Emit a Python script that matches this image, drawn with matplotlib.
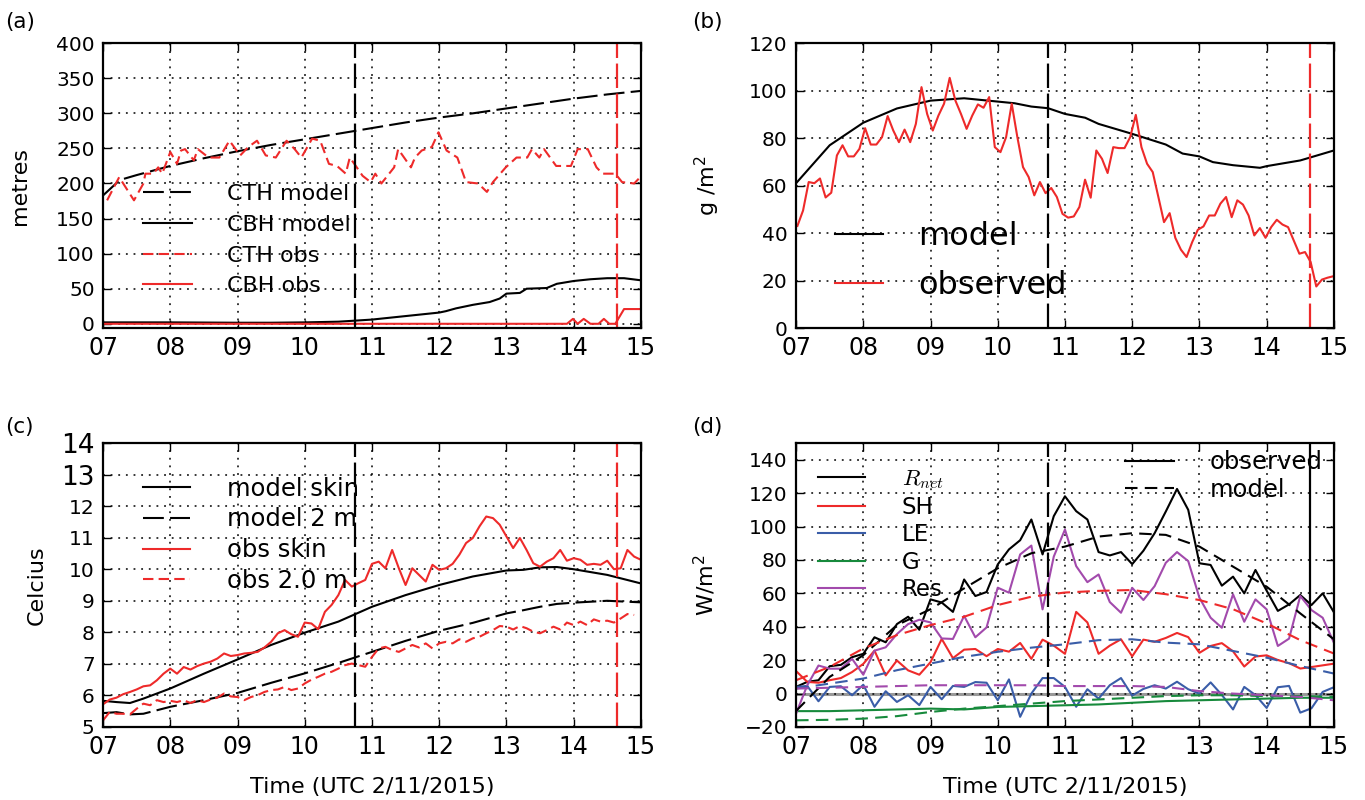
import numpy as np
import matplotlib.pyplot as plt
from matplotlib.lines import Line2D
from matplotlib.ticker import FuncFormatter

plt.rcParams['font.family'] = ['DejaVu Sans']

RED = '#ee2a2a'
BLUE = '#3a5da8'
GREEN = '#178a3c'
PURPLE = '#a24aac'

# ---------------- (a) cloud top / base height (metres)
a_model_t = [7.0, 7.25, 7.5, 8.0, 8.5, 9.0, 9.5, 10.0, 10.5, 11.0, 11.5, 12.0,
             12.5, 13.0, 13.5, 14.0, 14.5, 15.0]
a_cth_model = [183, 205, 212, 225, 236, 246, 255, 263, 271, 279, 287, 294,
               300, 307, 314, 321, 327, 332]

a_cbh_t = [7.0, 8.0, 9.0, 9.5, 10.0, 10.5, 11.0, 11.5, 12.0, 12.1, 12.25, 12.5,
           12.75, 12.9, 13.0, 13.2, 13.3, 13.6, 13.75, 14.0, 14.25, 14.5, 14.75, 15.0]
a_cbh_model = [2, 2, 1.5, 1.5, 2, 3, 6, 11, 16, 18, 22, 27,
               31, 36, 43, 44, 50, 51, 57, 61, 63.5, 65, 65, 62]

a_obs_t = [7.06, 7.24, 7.46, 7.60, 7.63, 7.75, 7.82, 7.88, 7.97, 8.00, 8.10, 8.16,
           8.22, 8.35, 8.41, 8.57, 8.73, 8.88, 9.04, 9.16, 9.29, 9.42, 9.57, 9.73,
           9.85, 9.95, 10.11, 10.23, 10.36, 10.48, 10.61, 10.67, 10.76, 10.86, 10.98,
           11.05, 11.14, 11.33, 11.39, 11.58, 11.64, 11.74, 11.89, 11.99, 12.11, 12.27,
           12.40, 12.58, 12.71, 12.80, 12.99, 13.15, 13.31, 13.38, 13.49, 13.56, 13.74,
           13.96, 14.06, 14.21, 14.34, 14.43, 14.62, 14.72, 14.90, 15.0]
a_cth_obs = [176, 209, 176, 200, 214, 214, 223, 214, 237, 245, 228, 247,
             249, 233, 249, 237, 237, 261, 240, 252, 261, 240, 237, 261,
             249, 237, 264, 261, 228, 225, 214, 237, 225, 211, 202,
             214, 200, 223, 249, 223, 237, 247, 252, 273, 247, 237,
             202, 200, 188, 202, 223, 237, 237, 249, 237, 249, 225,
             225, 249, 249, 223, 214, 214, 202, 200, 210]

a_cbh_obs_t = [7.0, 13.9, 13.99, 14.06, 14.15, 14.25, 14.37, 14.45, 14.53, 14.62, 14.75, 15.0]
a_cbh_obs = [0, 0, 7, 0, 7, 0, 0, 7, 0, 0, 21, 21]

# ---------------- (b) liquid water path (g/m2)
b_model_t = [7.0, 7.25, 7.5, 8.0, 8.5, 9.0, 9.5, 10.0, 10.25, 10.5, 10.75, 11.0,
             11.3, 11.5, 12.0, 12.5, 12.75, 13.0, 13.2, 13.5, 13.9, 14.0, 14.5, 15.0]
b_model = [61, 69, 77, 86.5, 92.5, 95.8, 96.8, 95.4, 94.7, 93.3, 92.6, 90.2,
           88.6, 86, 81.8, 77.3, 73.5, 72.3, 69.9, 68.6, 67.5, 68.2, 70.6, 74.8]
b_obs = [43, 49.5, 61.5, 61, 63, 55, 57, 72.7, 77, 72.3, 72.3, 75.5,
         84.2, 77.3, 77.3, 80.4, 89.3, 83.2, 78.3, 83.6, 78.3, 86, 101.5, 90.2,
         83.2, 89.5, 94.5, 105.4, 95.9, 90.2, 83.9, 89.5, 94.2, 92.8, 97.3, 76.2,
         74.1, 80.4, 94.5, 80.4, 67.8, 63.6, 55.9, 61.5, 56.8, 59, 55.2, 48.1,
         46.5, 47, 51, 62.5, 54.9, 74.8, 71.3, 65.3, 76.2, 75.8, 75.8, 80.4,
         89.8, 76.2, 69.2, 65.7, 55.2, 44.6, 48.4, 38, 33, 29.9, 36.2, 41.4,
         42.8, 47.4, 47.4, 52.4, 55.2, 46.7, 53.8, 52, 47.4, 39, 42.1, 38,
         42.5, 45.6, 43.6, 42.5, 36.9, 31.3, 32, 27.8, 17.5, 20.4, 21.2, 21.8]
b_obs_t = np.linspace(7.02, 14.99, len(b_obs))

# ---------------- (c) temperatures (Celcius)
c_model_t = [7.0, 7.2, 7.4, 7.6, 8.0, 8.5, 9.0, 9.5, 10.0, 10.5, 11.0, 11.5, 12.0,
             12.5, 13.0, 13.25, 13.5, 13.75, 14.0, 14.5, 15.0]
c_model_skin = [5.83, 5.79, 5.76, 5.9, 6.22, 6.69, 7.14, 7.6, 7.99, 8.34, 8.81, 9.18, 9.5,
                9.77, 9.96, 9.98, 10.06, 10.07, 10.0, 9.82, 9.55]
c_model_2m = [5.44, 5.47, 5.4, 5.42, 5.64, 5.85, 6.08, 6.4, 6.7, 7.03, 7.38, 7.73, 8.05,
              8.3, 8.6, 8.7, 8.81, 8.9, 8.94, 9.0, 8.95]
c_obs_skin = [5.72, 5.87, 5.93, 6.04, 6.11, 6.19, 6.29, 6.32, 6.48, 6.69,
              6.85, 6.69, 6.9, 6.82, 6.93, 7.01, 7.07, 7.17, 7.33, 7.25,
              7.28, 7.33, 7.35, 7.38, 7.52, 7.7, 7.97, 8.07, 7.94, 7.86,
              8.31, 8.28, 8.1, 8.65, 8.87, 9.18, 9.66, 9.45, 9.56, 9.66,
              10.17, 10.24, 10.03, 10.61, 10.03, 9.5, 10.03, 9.82, 9.61, 10.14,
              9.98, 10.03, 10.17, 10.46, 10.83, 10.99, 11.36, 11.67, 11.62, 11.41,
              11.04, 10.67, 10.99, 10.61, 10.19, 10.08, 10.24, 10.35, 10.61, 10.27,
              10.35, 10.3, 10.14, 10.17, 10.14, 10.27, 10.0, 10.03, 10.61, 10.4,
              10.3]
c_obs_2m = [5.21, 5.48, 5.42, 5.42, 5.4, 5.58, 5.74, 5.69, 5.85, 5.79,
            5.83, 5.79, 5.85, 5.76, 5.85, 5.79, 5.87, 5.93, 6.06, 5.97,
            5.95, 5.85, 5.95, 6.01, 6.11, 6.17, 6.19, 6.27, 6.17, 6.22,
            6.38, 6.5, 6.59, 6.69, 6.75, 6.85, 6.96, 7.01, 6.96, 6.91,
            7.22, 7.49, 7.54, 7.44, 7.38, 7.49, 7.6, 7.52, 7.65, 7.49,
            7.65, 7.7, 7.65, 7.78, 7.7, 7.81, 7.86, 7.97, 8.07, 8.2,
            8.18, 8.09, 8.2, 8.13, 8.02, 7.97, 8.07, 8.18, 8.09, 8.31,
            8.23, 8.34, 8.23, 8.41, 8.34, 8.37, 8.31, 8.44, 8.58, 8.55]
c_obs_t = 7.0 + 0.1 * np.arange(len(c_obs_skin))
c_obs2_t = 7.0 + 0.1 * np.arange(len(c_obs_2m))

# ---------------- (d) surface energy budget (W/m2), obs every 10 min
d_obs_t = 7.0 + np.arange(49) / 6.0
d_rnet_obs = [4, 7, 8, 16.4, 17.2, 21.8, 23.8, 33.7, 30.7, 41.6, 46, 38.2,
              56.4, 54.5, 48.9, 68.3, 58.4, 60.8, 77.3, 86.3, 91.8, 104.2, 83.3, 106.2,
              118.1, 109.2, 104.2, 84.7, 82.7, 84.7, 77.5, 85.5, 96, 109, 122.5, 110,
              78, 77, 64.6, 70, 60, 74, 61.6, 49.5, 53.4, 59, 53, 60, 48.7]
d_sh_obs = [13.5, 7, 6.5, 8, 9.3, 12.9, 17.8, 25.7, 10.9, 19.8, 13.9, 11.3,
            18.8, 32.7, 21.2, 26.3, 26.7, 22.4, 26.7, 25.1, 30.3, 20.8, 32.3, 28.7,
            23.8, 48.9, 42.6, 23.8, 28.7, 32.5, 22.3, 32.3, 31, 33.3, 36.3, 33.8,
            24.4, 28.5, 30.2, 25.3, 16.2, 22.2, 22.9, 20.1, 18.2, 15, 15.9, 16.9, 17.9]
d_le_obs = [4, 4.6, -4.6, 4, 4.4, -1, 5.3, -7.9, 1.4, -5, -1, -6.9,
            4, -3.4, 4.6, 4, 6.9, 6.5, -4, 8.5, -13.9, 0, 9.3, 9.3,
            4, -7.9, 2.6, -3, 5, 9.3, -1.2, 2.8, 5, 3, 7.1, 2.6,
            0, 6.7, -0.8, -9.5, 4, -0.9, -8.6, 3.8, 4.6, -11.4, -8.8, 1, 3.8]
d_res_obs = [-12, 5, 16.8, 14.9, 14.9, 20.8, 11.3, 25.7, 27.7, 35.6, 41.6, 44.2,
             42.6, 33, 32.7, 46.5, 33.7, 39.6, 63.4, 60.4, 83.3, 88.6, 50.4, 82,
             98.2, 76.3, 66.7, 71.3, 54.8, 48.4, 63.3, 56, 64.3, 78.3, 84.7, 79.3,
             57.4, 45.4, 39.4, 59.4, 43, 56.4, 50.4, 28.5, 32.9, 58.4, 50, 45.4, 30.5]

d_t = [7.0, 7.5, 8.0, 8.5, 9.0, 9.5, 10.0, 10.5, 11.0, 11.5, 12.0, 12.5,
       13.0, 13.5, 14.0, 14.5, 15.0]
d_g_obs = [-10.5, -10.5, -10, -9.5, -9, -9.5, -8, -7.5, -7, -6.5, -5.5, -4.5,
           -4, -3.5, -3, -2.5, -2.5]
d_rnet_model = [-10.4, 10, 23, 41, 50.5, 63, 75, 84, 88, 94, 96, 95,
                88, 76, 64, 48, 32.5]
d_sh_model = [8, 16, 27, 35, 41, 46, 53, 58, 60.5, 61.5, 62, 59.5,
              56, 50.5, 42, 32, 24]
d_le_model = [3, 6, 9, 14, 18, 22, 25, 27.5, 29.5, 32, 32.5, 30.5,
              29.5, 25.5, 21.5, 16.5, 12]
d_g_model = [-16, -15.7, -15, -13.5, -11, -9, -7.5, -6, -4.5, -3.5, -2.5, -1.5,
             -1, -1, -1.5, -1.5, -2]
d_res_model = [3, 3.5, 4, 4.5, 5, 5, 5, 5, 4.5, 4.5, 4.5, 4,
               1.5, 0, -1, -2, -4]

t_model_start = 10.75
t_obs_end = 14.65

DASH_K = (0, (10, 3))
DASH_R = (0, (5, 2.5))
DASH_D = (0, (6, 3.5))
VDASH = (0, (11, 2.5))


def style(ax):
    ax.set_xlim(7, 15)
    ax.set_xticks(range(7, 16))
    ax.xaxis.set_major_formatter(FuncFormatter(lambda v, p: '%02d' % v))
    ax.tick_params(direction='in', top=True, right=True, length=6, width=1)
    ax.tick_params(axis='x', labelsize=17, pad=6)
    ax.tick_params(axis='y', labelsize=14.5, pad=6)
    ax.grid(True, color='k', ls=(0, (1.2, 3.8)), lw=1.1)
    for s in ax.spines.values():
        s.set_linewidth(1.6)


fig = plt.figure(figsize=(13.65, 8), dpi=100)
ax_a = fig.add_axes([0.0755, 0.59, 0.394, 0.356])
ax_b = fig.add_axes([0.5832, 0.59, 0.394, 0.356])
ax_c = fig.add_axes([0.0755, 0.09125, 0.394, 0.355])
ax_d = fig.add_axes([0.5832, 0.09125, 0.394, 0.355])

# (a)
l1, = ax_a.plot(a_model_t, a_cth_model, color='k', lw=1.5, ls=DASH_K)
l2, = ax_a.plot(a_cbh_t, a_cbh_model, color='k', lw=1.5)
l3, = ax_a.plot(a_obs_t, a_cth_obs, color=RED, lw=1.5, ls=DASH_R)
l4, = ax_a.plot(a_cbh_obs_t, a_cbh_obs, color=RED, lw=1.5)
ax_a.axvline(t_model_start, color='k', lw=1.6, ls=VDASH)
ax_a.axvline(t_obs_end, color=RED, lw=1.6, ls=VDASH)
ax_a.set_ylim(-6, 400)
ax_a.set_yticks(range(0, 401, 50))
ax_a.set_ylabel('metres', fontsize=16)
ax_a.yaxis.set_label_coords(-0.136, 0.5)
ax_a.legend([l1, l2, l3, l4], ['CTH model', 'CBH model', 'CTH obs', 'CBH obs'],
            loc='upper left', bbox_to_anchor=(0.074, 0.505), frameon=False,
            fontsize=16, handlelength=2.2, handletextpad=1.6, labelspacing=0.48,
            borderpad=0, borderaxespad=0)
style(ax_a)

# (b)
m1, = ax_b.plot(b_model_t, b_model, color='k', lw=1.5)
m2, = ax_b.plot(b_obs_t, b_obs, color=RED, lw=1.5)
ax_b.axvline(t_model_start, color='k', lw=1.6, ls=VDASH)
ax_b.axvline(t_obs_end, color=RED, lw=1.6, ls=VDASH)
ax_b.set_ylim(0, 120)
ax_b.set_yticks(range(0, 121, 20))
ax_b.set_ylabel('g /m$^2$', fontsize=16)
ax_b.yaxis.set_label_coords(-0.138, 0.5)
ax_b.legend([m1, m2], ['model', 'observed'], loc='upper left',
            bbox_to_anchor=(0.0725, 0.375), frameon=False, fontsize=23,
            handlelength=1.5, handletextpad=1.1, labelspacing=0.55,
            borderpad=0, borderaxespad=0)
style(ax_b)

# (c)
k1, = ax_c.plot(c_model_t, c_model_skin, color='k', lw=1.5)
k2, = ax_c.plot(c_model_t, c_model_2m, color='k', lw=1.5, ls=DASH_K)
k3, = ax_c.plot(c_obs_t, c_obs_skin, color=RED, lw=1.5)
k4, = ax_c.plot(c_obs2_t, c_obs_2m, color=RED, lw=1.5, ls=DASH_R)
ax_c.axvline(t_model_start, color='k', lw=1.6, ls=VDASH)
ax_c.axvline(t_obs_end, color=RED, lw=1.6, ls=VDASH)
ax_c.set_ylim(5, 14)
ax_c.set_yticks(range(5, 15))
ax_c.set_yticklabels([str(v) for v in range(5, 15)])
ax_c.set_ylabel('Celcius', fontsize=16)
ax_c.yaxis.set_label_coords(-0.104, 0.5)
ax_c.set_xlabel('Time (UTC 2/11/2015)', fontsize=16, labelpad=13)
ax_c.legend([k1, k2, k3, k4], ['model skin', 'model 2 m', 'obs skin', 'obs 2.0 m'],
            loc='upper left', bbox_to_anchor=(0.074, 0.882), frameon=False,
            fontsize=17.5, handlelength=1.95, handletextpad=1.5, labelspacing=0.28,
            borderpad=0, borderaxespad=0)
style(ax_c)
for lab in ax_c.get_yticklabels()[-2:]:
    lab.set_fontsize(19)

# (d)
ax_d.axhline(0, color='0.6', lw=2.2, zorder=1.5)
o1, = ax_d.plot(d_obs_t, d_rnet_obs, color='k', lw=1.5)
o2, = ax_d.plot(d_obs_t, d_sh_obs, color=RED, lw=1.5)
o3, = ax_d.plot(d_obs_t, d_le_obs, color=BLUE, lw=1.5)
o4, = ax_d.plot(d_t, d_g_obs, color=GREEN, lw=1.5)
o5, = ax_d.plot(d_obs_t, d_res_obs, color=PURPLE, lw=1.5)
ax_d.plot(d_t, d_rnet_model, color='k', lw=1.5, ls=DASH_D)
ax_d.plot(d_t, d_sh_model, color=RED, lw=1.5, ls=DASH_D)
ax_d.plot(d_t, d_le_model, color=BLUE, lw=1.5, ls=DASH_D)
ax_d.plot(d_t, d_g_model, color=GREEN, lw=1.5, ls=DASH_D)
ax_d.plot(d_t, d_res_model, color=PURPLE, lw=1.5, ls=DASH_D)
ax_d.axvline(t_model_start, color='k', lw=1.6, ls=VDASH)
ax_d.axvline(t_obs_end, color='k', lw=1.6)
ax_d.set_ylim(-20, 150)
ax_d.set_yticks(range(-20, 141, 20))
ax_d.set_ylabel('W/m$^2$', fontsize=16)
ax_d.yaxis.set_label_coords(-0.145, 0.5)
ax_d.set_xlabel('Time (UTC 2/11/2015)', fontsize=16, labelpad=13)
leg1 = ax_d.legend([o1, o2, o3, o4, o5], ['$R_{net}$', 'SH', 'LE', 'G', 'Res'],
                   loc='upper left', bbox_to_anchor=(0.041, 0.915), frameon=False,
                   fontsize=16.5, handlelength=2.05, handletextpad=1.6,
                   labelspacing=0.2, borderpad=0, borderaxespad=0)
leg1.get_texts()[0].set_math_fontfamily('cm')
ax_d.add_artist(leg1)
ax_d.legend([Line2D([], [], color='k', lw=1.5), Line2D([], [], color='k', lw=1.5, ls=DASH_D)],
            ['observed', 'model'], loc='upper left', bbox_to_anchor=(0.6115, 0.975),
            frameon=False, fontsize=17.5, handlelength=2.0, handletextpad=1.5,
            labelspacing=0.15, borderpad=0, borderaxespad=0)
style(ax_d)

for x, y, s in [(0.004, 0.972, '(a)'), (0.507, 0.972, '(b)'),
                (0.004, 0.466, '(c)'), (0.507, 0.466, '(d)')]:
    fig.text(x, y, s, fontsize=15.5, va='center', ha='left')

fig.savefig('out.png', dpi=100)
